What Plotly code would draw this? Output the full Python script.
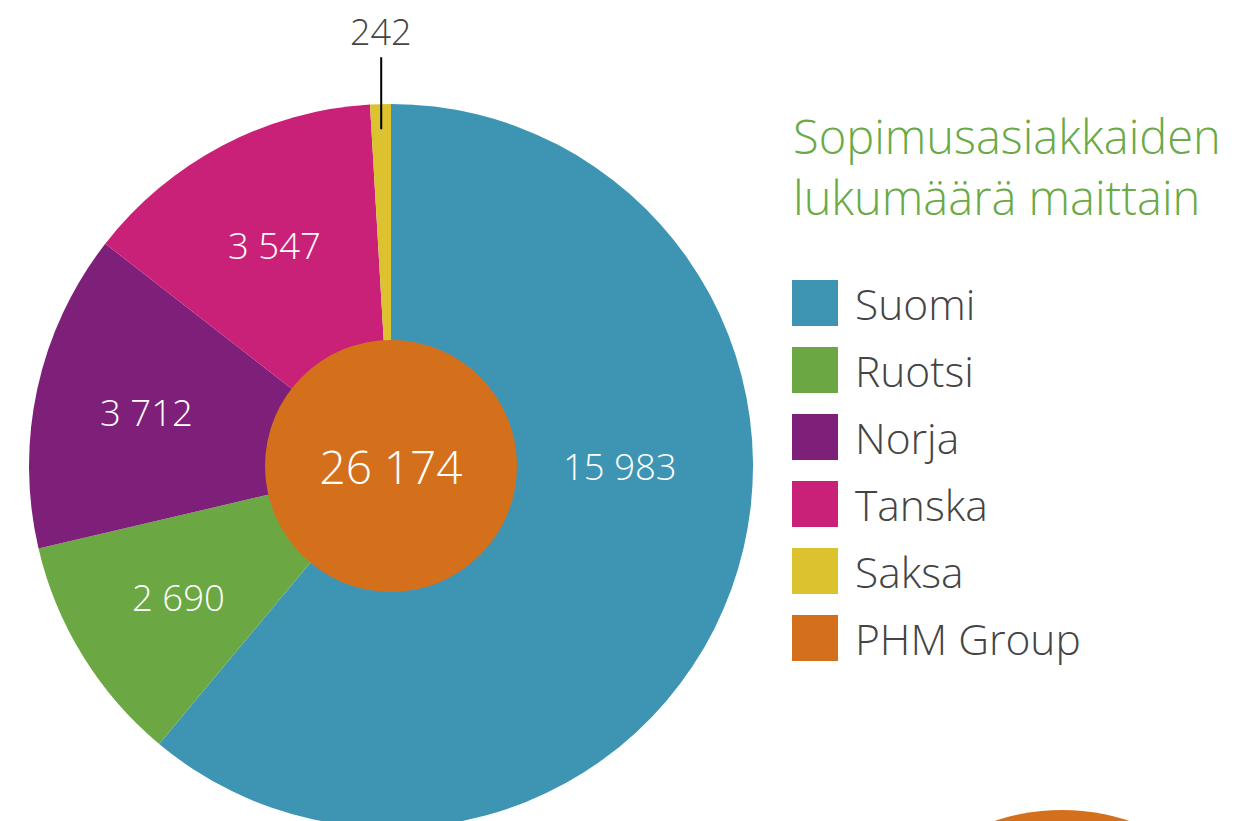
import math
import plotly.graph_objects as go

# data
countries = ["Suomi", "Ruotsi", "Norja", "Tanska", "Saksa"]
customers = [15983, 2690, 3712, 3547, 242]
group_label = "PHM Group"
title_lines = ["Sopimusasiakkaiden", "lukumäärä maittain"]

colors = ["#3e95b3", "#6ba843", "#7e1f7a", "#c92177", "#dbc22e"]
group_color = "#d4701c"

W, H = 1247, 821
OFF = 8  # page body margin
FONT = "Open Sans"
GREY = "#444444"

total = sum(customers)

# pie geometry (figure pixels)
cx, cy, R = 391 - OFF, 466 - OFF, 362
r_inner = 126


def fmt(v):
    return f"{v:,}".replace(",", " ")


fig = go.Figure()

# main pie
fig.add_trace(go.Pie(
    labels=countries,
    values=customers,
    marker=dict(colors=colors, line=dict(width=0)),
    sort=False,
    direction="clockwise",
    rotation=0,
    textinfo="none",
    hoverinfo="skip",
    showlegend=False,
    domain=dict(x=[(cx - R) / W, (cx + R) / W],
                y=[max(0, (H - cy - R) / H), (H - cy + R) / H]),
))

# group total disc in the middle
fig.add_trace(go.Pie(
    labels=[group_label],
    values=[total],
    marker=dict(colors=[group_color], line=dict(width=0)),
    texttemplate="%{value:,}",
    textposition="inside",
    insidetextorientation="horizontal",
    textfont=dict(family=FONT, size=46, color="white", weight=300),
    hoverinfo="skip",
    showlegend=False,
    domain=dict(x=[(cx - r_inner) / W, (cx + r_inner) / W],
                y=[(H - cy - r_inner) / H, (H - cy + r_inner) / H]),
))

# invisible pixel axes for overlays
fig.add_trace(go.Scatter(x=[0, W], y=[0, H], mode="markers",
                         marker=dict(opacity=0), hoverinfo="skip", showlegend=False))

annotations = []
shapes = []

# slice labels
cum = 0
for i, (name, v) in enumerate(zip(countries, customers)):
    mid = (cum + v / 2) / total * 360
    cum += v
    if v / total < 0.02:
        # small slice: label outside with a leader line
        px = cx + (R - 25) * math.sin(math.radians(mid))
        py = cy - (R - 25) * math.cos(math.radians(mid))
        annotations.append(dict(
            x=px, y=py, xref="x", yref="y", text=fmt(v),
            showarrow=True, arrowhead=0, arrowwidth=2, arrowcolor="black",
            ax=0, ay=-98, font=dict(family=FONT, size=36, color=GREY, weight=300),
        ))
        continue
    if i == 0:
        ang, rr = 90, 229
    else:
        ang, rr = mid, 250
    px = cx + rr * math.sin(math.radians(ang))
    py = cy - rr * math.cos(math.radians(ang))
    annotations.append(dict(
        x=px, y=py, xref="x", yref="y", text=fmt(v), showarrow=False,
        font=dict(family=FONT, size=36.5, color="white", weight=300),
    ))

# title
annotations.append(dict(
    x=791 - OFF, y=166 - OFF, xref="x", yref="y",
    xanchor="left", yanchor="middle",
    text="<br>".join(title_lines), align="left", showarrow=False,
    font=dict(family=FONT, size=47, color="#6aaa46", weight=300),
))

# legend
leg_labels = countries + [group_label]
leg_colors = colors + [group_color]
for i, (lab, col) in enumerate(zip(leg_labels, leg_colors)):
    yc = 303 - OFF + 67 * i
    shapes.append(dict(type="rect", xref="x", yref="y",
                       x0=792 - OFF, x1=838 - OFF, y0=yc - 23, y1=yc + 23,
                       fillcolor=col, line=dict(width=0)))
    annotations.append(dict(
        x=853 - OFF, y=yc, xref="x", yref="y", xanchor="left", yanchor="middle",
        text=lab, showarrow=False,
        font=dict(family=FONT, size=42.5, color=GREY, weight=300),
    ))

# decorative orange circle at bottom right
shapes.append(dict(type="circle", xref="x", yref="y",
                   x0=1062 - OFF - 212, x1=1062 - OFF + 212,
                   y0=810 - OFF, y1=810 - OFF + 424,
                   fillcolor=group_color, line=dict(width=0), layer="below"))

fig.update_layout(
    width=W, height=H,
    margin=dict(l=0, r=0, t=0, b=0),
    paper_bgcolor="white", plot_bgcolor="white",
    separators=", ",
    xaxis=dict(range=[0, W], visible=False, fixedrange=True),
    yaxis=dict(range=[H, 0], visible=False, fixedrange=True),
    annotations=annotations,
    shapes=shapes,
    showlegend=False,
)

fig.write_html("out.html")
